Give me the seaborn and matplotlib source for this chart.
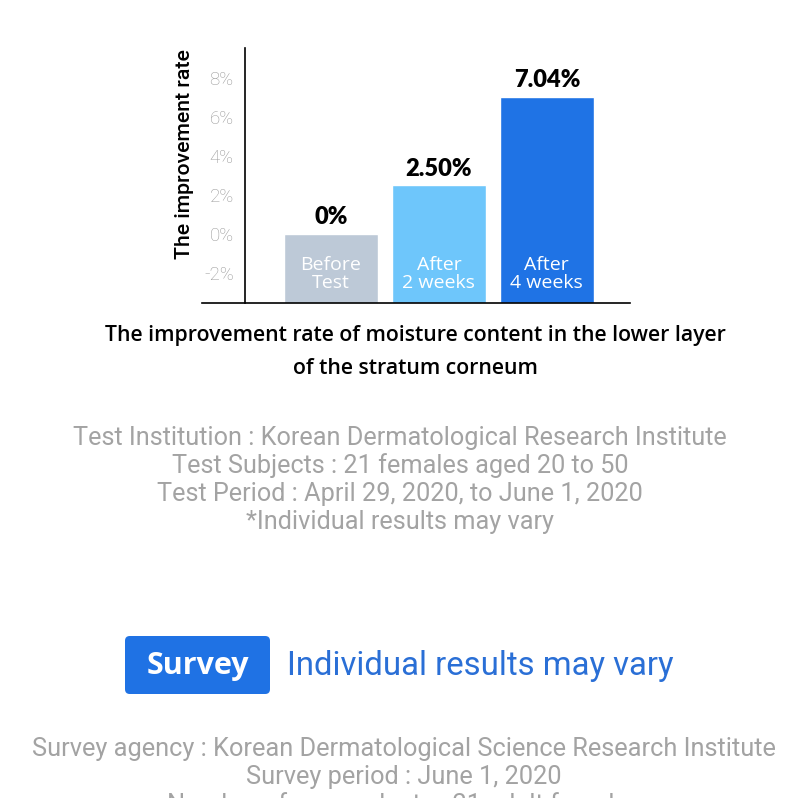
import pandas as pd
import seaborn as sns
import matplotlib.pyplot as plt
from matplotlib.patches import FancyBboxPatch

## data
stages = ["Before\nTest", "After\n2 weeks", "After\n4 weeks"]
rates = [0.0, 2.50, 7.04]
rate_labels = ["0%", "2.50%", "7.04%"]
bar_colors = ["#BDC9D7", "#6EC6FB", "#1F73E5"]
y_ticks = [-2, 0, 2, 4, 6, 8]

test_notes = ["Test Institution : Korean Dermatological Research Institute",
              "Test Subjects : 21 females aged 20 to 50",
              "Test Period : April 29, 2020, to June 1, 2020",
              "*Individual results may vary"]
survey_notes = ["Survey agency : Korean Dermatological Science Research Institute",
                "Survey period : June 1, 2020",
                "Number of respondents : 21 adult females"]

BASE = -3.54
df = pd.DataFrame({"stage": stages, "rate": rates})
df["height"] = df["rate"] - BASE

sns.set_style("white")
plt.rcParams["font.family"] = ["Roboto", "DejaVu Sans"]

H = 798
fig = plt.figure(figsize=(8, 7.98), dpi=100)
ax = fig.add_axes([202 / 800, 1 - 303 / H, 428 / 800, 255 / H])

sns.barplot(data=df, x="stage", y="height", hue="stage", palette=bar_colors,
            saturation=1, bottom=BASE, width=0.87, legend=False, ax=ax)

# spine moves first, it resets the tick setup
for s in ["top", "right"]:
    ax.spines[s].set_visible(False)
ax.spines["left"].set_position(("axes", 0.1))
ax.spines["left"].set_color("black")
ax.spines["bottom"].set_color("black")
ax.spines["left"].set_linewidth(1.2)
ax.spines["bottom"].set_linewidth(1.2)

ax.set_ylim(BASE, 9.54)
ax.set_xlim(-1.194, 2.77)
ax.set_yticks(y_ticks)
ax.set_yticklabels([f"{t}%" for t in y_ticks], color="#999999", fontsize=13.5,
                   fontweight="light")
ax.tick_params(axis="y", length=0, pad=8)
ax.set_xticks([])
ax.set_xlabel("")
ax.set_ylabel("")

for i, (stage, v, lab) in enumerate(zip(stages, rates, rate_labels)):
    ax.annotate(lab, xy=(i, v), xytext=(0, 4), textcoords="offset points",
                ha="center", va="bottom", fontsize=17, fontweight="heavy",
                color="black", family=["Lato", "DejaVu Sans"])
    ax.text(i, -2.05, stage, ha="center", va="center", color="white",
            fontsize=14, linespacing=1.0, family=["Open Sans", "DejaVu Sans"])

fig.text(185 / 800, 1 - 154 / H, "The improvement rate", rotation=90,
         ha="center", va="center", fontsize=15.3, fontweight="medium", color="black")

fig.text(415 / 800, 1 - 336 / H, "The improvement rate of moisture content in the lower layer",
         ha="center", va="center", fontsize=15.3, fontweight="semibold",
         family=["Open Sans", "DejaVu Sans"], color="black")
fig.text(415 / 800, 1 - 369 / H, "of the stratum corneum",
         ha="center", va="center", fontsize=15.3, fontweight="semibold",
         family=["Open Sans", "DejaVu Sans"], color="black")

for k, line in enumerate(test_notes):
    fig.text(400 / 800, 1 - (438 + 28 * k) / H, line, ha="center", va="center",
             fontsize=18.2, color="#A3A3A3")

# survey badge
badge = FancyBboxPatch((125 / 800, 1 - 694 / H), 145 / 800, 58 / H,
                       boxstyle="round,pad=0,rounding_size=0.006",
                       transform=fig.transFigure, facecolor="#1F72E4",
                       edgecolor="none")
fig.patches.append(badge)
fig.text(198 / 800, 1 - 666 / H, "Survey", ha="center", va="center",
         fontsize=22, fontweight="bold", color="white",
         family=["Open Sans", "DejaVu Sans"])
fig.text(287 / 800, 1 - 666 / H, "Individual results may vary", ha="left",
         va="center", fontsize=23.7, color="#2A6FD6")

for k, line in enumerate(survey_notes):
    fig.text(404 / 800, 1 - (749 + 28 * k) / H, line, ha="center", va="center",
             fontsize=18.3, color="#A3A3A3")

plt.savefig("out.png", dpi=100, facecolor="white")
